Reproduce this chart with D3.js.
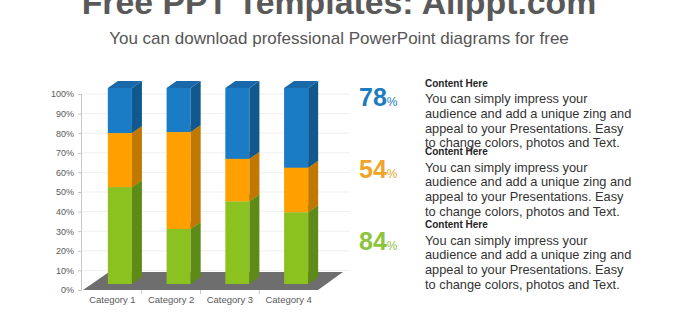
<!DOCTYPE html>
<html>
<head>
  <meta charset="utf-8">
  <title>Stacked 100% 3D Bar Chart</title>
  <style>
    body { margin: 0; background: #fff; }
    text { font-family: "Liberation Sans", Arial, sans-serif; }
  </style>
</head>
<body>
  <script src="https://d3js.org/d3.v7.min.js"></script>
  <script type="text/javascript">

var categories = ["Category 1", "Category 2", "Category 3", "Category 4"];
var series1 = [4.3, 2.5, 3.5, 4.5];
var series2 = [2.4, 4.4, 1.8, 2.8];
var series3 = [2, 2, 3, 5];
var yTicks = [0, 0.1, 0.2, 0.3, 0.4, 0.5, 0.6, 0.7, 0.8, 0.9, 1];

var bigNumbers = ["78", "54", "84"];
var blockTitle = "Content Here";
var blockLines = ["You can simply impress your",
                  "audience and add a unique zing and",
                  "appeal to your Presentations. Easy",
                  "to change colors, photos and Text."];

var keys = ["s1", "s2", "s3"];
var colors = {
  s1: {front: "#8cc21f", side: "#5e8b17", top: "#79aa1a"},
  s2: {front: "#ff9f00", side: "#c17800", top: "#e28d00"},
  s3: {front: "#1b7cc6", side: "#11588f", top: "#1868aa"}
};
var numberColors = ["#1f7bbf", "#f0a52a", "#8cc43c"];

var width = 678, height = 321;

var svg = d3.select("body")
    .append("svg")
    .attr("width", width)
    .attr("height", height);

// titles
svg.append("text")
    .attr("x", 339).attr("y", 14)
    .attr("text-anchor", "middle")
    .attr("font-size", 33.8)
    .attr("font-weight", "bold")
    .attr("fill", "#595959")
    .text("Free PPT Templates: Allppt.com");

svg.append("text")
    .attr("x", 339).attr("y", 44)
    .attr("text-anchor", "middle")
    .attr("font-size", 17)
    .attr("fill", "#555")
    .text("You can download professional PowerPoint diagrams for free");

// scales
var xScale = d3.scaleBand()
    .domain(categories)
    .range([83, 318])
    .paddingInner(0.59)
    .paddingOuter(0.295);

var yScale = d3.scaleLinear()
    .domain([0, 1])
    .range([290, 94]);

var floorDepth = {dx: 25, dy: -18};
var barShift = {dx: 7.5, dy: -6};
var barDepth = {dx: 10, dy: -7};

// gridlines
svg.append("g").selectAll("line")
    .data(yTicks.slice(1))
    .enter().append("line")
    .attr("x1", 82).attr("x2", 350)
    .attr("y1", function(d){ return yScale(d); })
    .attr("y2", function(d){ return yScale(d); })
    .attr("stroke", "#efefef")
    .attr("stroke-width", 1);

// floor
var fx0 = xScale.range()[0], fx1 = xScale.range()[1], fy = yScale(0);
svg.append("polygon")
    .attr("points", [
        [fx0, fy], [fx1, fy],
        [fx1 + floorDepth.dx, fy + floorDepth.dy],
        [fx0 + floorDepth.dx + 1, fy + floorDepth.dy]
      ].map(function(p){ return p.join(","); }).join(" "))
    .attr("fill", "#6e6e6e");

// y axis
var yAxis = svg.append("g")
    .attr("transform", "translate(81,0)")
    .call(d3.axisLeft(yScale).tickValues(yTicks).tickFormat(d3.format(".0%")).tickSize(3).tickPadding(4));
yAxis.selectAll("text").attr("font-size", 9).attr("fill", "#595959").attr("font-family", "Liberation Sans, Arial, sans-serif");
yAxis.selectAll("line").attr("stroke", "#c8c8c8");
yAxis.select(".domain").attr("stroke", "#c8c8c8");

// x axis
var xAxis = svg.append("g")
    .attr("transform", "translate(0," + fy + ")")
    .call(d3.axisBottom(xScale).tickSize(0).tickPadding(6));
xAxis.select(".domain").remove();
xAxis.selectAll("text").attr("font-size", 9.5).attr("fill", "#595959").attr("font-family", "Liberation Sans, Arial, sans-serif");

svg.append("g").selectAll("line")
    .data(categories.slice(1))
    .enter().append("line")
    .attr("x1", function(d){ return xScale(d) - xScale.step() * xScale.paddingInner() / 2; })
    .attr("x2", function(d){ return xScale(d) - xScale.step() * xScale.paddingInner() / 2; })
    .attr("y1", fy).attr("y2", fy + 4)
    .attr("stroke", "#c8c8c8");

// stacked data
var data = categories.map(function(c, i){
    return {category: c, s1: series1[i], s2: series2[i], s3: series3[i]};
});
var stacked = d3.stack().keys(keys).offset(d3.stackOffsetExpand)(data);

var bw = xScale.bandwidth();
function pts(arr){ return arr.map(function(p){ return p.join(","); }).join(" "); }

categories.forEach(function(c, i){
    var g = svg.append("g");
    var x0 = xScale(c) + barShift.dx;
    stacked.forEach(function(layer){
        var d = layer[i];
        var yTop = yScale(d[1]) + barShift.dy;
        var yBot = yScale(d[0]) + barShift.dy;
        var col = colors[layer.key];
        g.append("rect")
            .attr("x", x0).attr("y", yTop)
            .attr("width", bw).attr("height", yBot - yTop)
            .attr("fill", col.front);
        g.append("polygon")
            .attr("points", pts([[x0 + bw, yTop], [x0 + bw + barDepth.dx, yTop + barDepth.dy],
                                 [x0 + bw + barDepth.dx, yBot + barDepth.dy], [x0 + bw, yBot]]))
            .attr("fill", col.side);
        g.append("polygon")
            .attr("points", pts([[x0, yTop], [x0 + bw, yTop],
                                 [x0 + bw + barDepth.dx, yTop + barDepth.dy], [x0 + barDepth.dx, yTop + barDepth.dy]]))
            .attr("fill", col.top);
    });
});

// right side text blocks
var numBase = [106, 178, 250];
var headBase = [86.5, 155, 228];

bigNumbers.forEach(function(n, i){
    var t = svg.append("text")
        .attr("x", 359).attr("y", numBase[i])
        .attr("fill", numberColors[i])
        .attr("font-weight", "bold");
    t.append("tspan").attr("font-size", 25).text(n);
    t.append("tspan").attr("font-size", 12).attr("font-weight", "normal").text("%");

    svg.append("text")
        .attr("x", 425).attr("y", headBase[i])
        .attr("font-size", 10)
        .attr("font-weight", "bold")
        .attr("fill", "#262626")
        .text(blockTitle);

    svg.append("g").selectAll("text")
        .data(blockLines)
        .enter().append("text")
        .attr("x", 425)
        .attr("y", function(d, j){ return headBase[i] + 16.5 + j * 14.8; })
        .attr("font-size", 12.8)
        .attr("fill", "#333")
        .text(function(d){ return d; });
});

  </script>
</body>
</html>
